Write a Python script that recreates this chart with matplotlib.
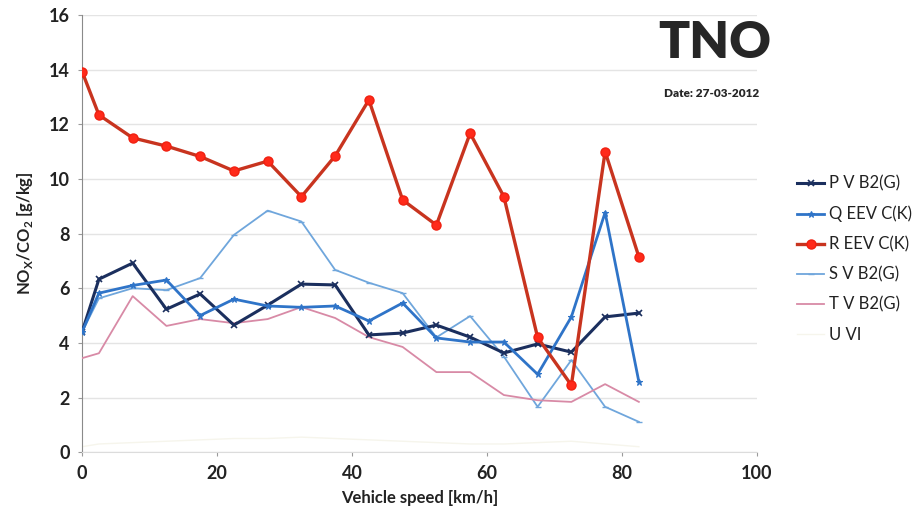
import matplotlib
matplotlib.use("Agg")
import matplotlib.pyplot as plt

plt.rcParams['font.family'] = ['Lato', 'DejaVu Sans']

# Vehicle speed bins [km/h]
speed = [0, 2.5, 7.5, 12.5, 17.5, 22.5, 27.5, 32.5, 37.5, 42.5,
         47.5, 52.5, 57.5, 62.5, 67.5, 72.5, 77.5, 82.5]

# NOx/CO2 ratio [g/kg] per vehicle
p_v_b2g = [4.4, 6.33, 6.92, 5.23, 5.79, 4.65, 5.38, 6.15, 6.12, 4.29,
           4.36, 4.65, 4.21, 3.63, 3.96, 3.66, 4.95, 5.09]
q_eev_ck = [4.4, 5.82, 6.1, 6.3, 5.0, 5.6, 5.35, 5.3, 5.35, 4.8,
            5.46, 4.18, 4.03, 4.03, 2.85, 4.95, 8.77, 2.58]
r_eev_ck = [13.93, 12.34, 11.5, 11.2, 10.82, 10.29, 10.65, 9.35, 10.84, 12.89,
            9.23, 8.31, 11.67, 9.35, 4.2, 2.45, 11.0, 7.15]
s_v_b2g = [4.4, 5.63, 6.0, 5.93, 6.37, 7.95, 8.84, 8.44, 6.67, 6.2,
           5.82, 4.2, 4.98, 3.5, 1.66, 3.37, 1.66, 1.11]
t_v_b2g = [3.44, 3.62, 5.71, 4.62, 4.87, 4.72, 4.87, 5.31, 4.91, 4.21,
           3.85, 2.93, 2.93, 2.09, 1.9, 1.84, 2.49, 1.84]
u_vi = [0.2, 0.3, 0.35, 0.4, 0.45, 0.5, 0.5, 0.55, 0.5, 0.45,
        0.4, 0.35, 0.3, 0.3, 0.35, 0.4, 0.3, 0.2]

x_ticks = [0, 20, 40, 60, 80, 100]
y_ticks = [0, 2, 4, 6, 8, 10, 12, 14, 16]

fig = plt.figure(figsize=(9.22, 5.15), dpi=100)
ax = fig.add_axes([0.089, 0.122, 0.732, 0.849])

ax.plot(speed, p_v_b2g, color='#1b2f5e', lw=2.2, marker='x', ms=4, mew=1.2,
        label='P V B2(G)', zorder=4)
ax.plot(speed, q_eev_ck, color='#2f74c8', lw=2.0, marker='*', ms=5, mew=0.8,
        label='Q EEV C(K)', zorder=4)
ax.plot(speed, r_eev_ck, color='#c8341f', lw=2.4, marker='o', ms=6.5,
        mfc='#ff2a1a', mec='#f02010', label='R EEV C(K)', zorder=5)
ax.plot(speed, s_v_b2g, color='#6fa6dc', lw=1.3, marker='_', ms=4,
        label='S V B2(G)', zorder=3)
ax.plot(speed, t_v_b2g, color='#d88aa6', lw=1.3,
        label='T V B2(G)', zorder=3)
ax.plot(speed, u_vi, color='#f6f5ec', lw=1.0,
        label='U VI', zorder=2)

ax.set_xlim(0, 100)
ax.set_ylim(0, 16)
ax.set_xticks(x_ticks)
ax.set_yticks(y_ticks)
ax.grid(axis='y', color='#e4e4e4', lw=1.0)
ax.set_axisbelow(True)
for s in ['top', 'right']:
    ax.spines[s].set_visible(False)
ax.spines['left'].set_color('#8a8a8a')
ax.spines['bottom'].set_color('#dcdcdc')
ax.tick_params(axis='both', length=3, color='#9a9a9a', labelsize=13, pad=6)
for lab in ax.get_xticklabels() + ax.get_yticklabels():
    lab.set_fontweight('bold')
    lab.set_color('#222222')

ax.set_xlabel('Vehicle speed [km/h]', fontsize=12, fontweight='bold',
              color='#222222', labelpad=6)
ax.set_ylabel(r'NO$_\mathregular{X}$/CO$_\mathregular{2}$ [g/kg]', fontsize=12,
              fontweight='bold', color='#222222', labelpad=10)

leg = fig.legend(loc='upper left', bbox_to_anchor=(0.848, 0.688), frameon=False,
                 fontsize=12, handlelength=1.65, handletextpad=0.25,
                 labelspacing=0.84)
for t in leg.get_texts():
    t.set_color('#222222')

fig.text(0.775, 0.917, 'TNO', fontsize=37, fontweight='heavy', color='#262626',
         ha='center', va='center')
fig.text(0.772, 0.818, 'Date: 27-03-2012', fontsize=8.5, fontweight='heavy',
         color='#262626', ha='center', va='center')

fig.savefig('out.png', dpi=100)
